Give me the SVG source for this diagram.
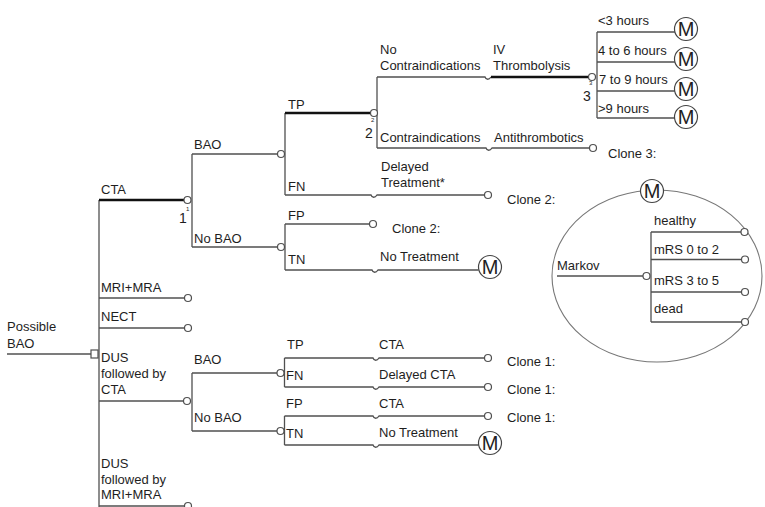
<svg xmlns="http://www.w3.org/2000/svg" width="765" height="507" viewBox="0 0 765 507">
<style>
.ln{fill:none;stroke:#505050;stroke-width:1.3}
.th{fill:none;stroke:#111;stroke-width:2.6}
.nd{fill:#fff;stroke:#505050;stroke-width:1.2}
.mc{fill:#fff;stroke:#444;stroke-width:1.2}
.el{fill:none;stroke:#777;stroke-width:1.1}
text{font-family:"Liberation Sans",Arial,sans-serif;font-size:13px;fill:#1e1e1e}
.m{font-size:20px;text-anchor:middle}
.num{font-size:14px}
.sup{font-size:6px}
</style>
<rect width="765" height="507" fill="#fff"/>
<g id="connectors">
<path class="ln" d="M7,354 H91"/>
<path class="ln" d="M99,200 V507"/>
<path class="th" d="M99,200 H184"/>
<path class="ln" d="M99,298 H184.5"/>
<path class="ln" d="M99,328 H184.5"/>
<path class="ln" d="M99,401 H183.5"/>
<path class="ln" d="M99,506 H184.5"/>
<path class="ln" d="M192,154 V247 M192,154 H277.5 M192,247 H277.5"/>
<path class="ln" d="M285,113 V195 M285,224 V270"/>
<path class="th" d="M285,113 H370.5"/>
<path class="ln" d="M285,195 H371 C372,198 375,198 377,195 H484.5"/>
<path class="ln" d="M285,224 H369.5"/>
<path class="ln" d="M285,270 H372 C373,273 376,273 378,270 H478.7"/>
<path class="ln" d="M377,77 V148"/>
<path class="ln" d="M377,77 H485 C486,80 489,80 491,77"/>
<path class="th" d="M491,77 H588.5"/>
<path class="ln" d="M377,148 H486 C487,151 490,151 492,148 H589.5"/>
<path class="ln" d="M597,32 V118 M597,32 H675 M597,62 H675 M597,91 H675 M597,118 H675"/>
<path class="ln" d="M557,276 H643 M651,232 V322 M651,232 H741 M651,259.5 H741.5 M651,292 H741.5 M651,322 H741.5"/>
<path class="ln" d="M192,373 V431 M192,373 H277 M192,431 H277"/>
<path class="ln" d="M284.5,358 V387 M284.5,416 V445"/>
<path class="ln" d="M284.5,358 H373 C374,361 377,361 379,358 H484.5"/>
<path class="ln" d="M284.5,387 H373 C374,390 377,390 379,387 H484.5"/>
<path class="ln" d="M284.5,416 H373 C374,419 377,419 379,416 H484.5"/>
<path class="ln" d="M284.5,445 H373 C374,448 377,448 379,445 H478.7"/>
</g>
<g id="root">
<rect class="nd" x="91" y="350" width="7" height="8"/>
<text x="7" y="331">Possible</text>
<text x="7" y="348">BAO</text>
</g>
<g id="branch-labels">
<text x="101" y="194">CTA</text>
<text x="101" y="292">MRI+MRA</text>
<text x="101" y="321">NECT</text>
<text x="101" y="362">DUS</text>
<text x="101" y="378">followed by</text>
<text x="101" y="394">CTA</text>
<text x="101" y="468">DUS</text>
<text x="101" y="484">followed by</text>
<text x="101" y="499">MRI+MRA</text>
<text x="194" y="149">BAO</text>
<text x="194" y="243">No BAO</text>
<text x="288" y="109">TP</text>
<text x="288" y="191">FN</text>
<text x="288" y="220">FP</text>
<text x="288" y="264">TN</text>
<text x="381" y="171">Delayed</text>
<text x="381" y="187">Treatment*</text>
<text x="380" y="261">No Treatment</text>
<text x="380" y="54">No</text>
<text x="380" y="70">Contraindications</text>
<text x="493" y="54">IV</text>
<text x="493" y="70">Thrombolysis</text>
<text x="380" y="142">Contraindications</text>
<text x="494" y="142">Antithrombotics</text>
<text x="598" y="25">&lt;3 hours</text>
<text x="598" y="55">4 to 6 hours</text>
<text x="599" y="84">7 to 9 hours</text>
<text x="598" y="113">&gt;9 hours</text>
<text x="194" y="364">BAO</text>
<text x="194" y="422">No BAO</text>
<text x="287" y="349">TP</text>
<text x="286" y="380">FN</text>
<text x="286" y="408">FP</text>
<text x="286" y="438">TN</text>
<text x="379" y="349">CTA</text>
<text x="379" y="379">Delayed CTA</text>
<text x="379" y="408">CTA</text>
<text x="379" y="437">No Treatment</text>
</g>
<g id="end-mri"><circle class="nd" cx="188" cy="298" r="3.5"/></g>
<g id="end-nect"><circle class="nd" cx="188" cy="328" r="3.5"/></g>
<g id="end-dus-mri"><circle class="nd" cx="188" cy="506" r="3.5"/></g>
<g id="node1">
<circle class="nd" cx="187.5" cy="200" r="3.5"/>
<text class="num" x="179" y="223">1</text>
<text class="sup" x="186" y="211">1</text>
</g>
<g id="node-bao"><circle class="nd" cx="281" cy="154" r="3.5"/></g>
<g id="node-nobao"><circle class="nd" cx="281" cy="247" r="3.5"/></g>
<g id="node2">
<circle class="nd" cx="374" cy="113" r="3.5"/>
<text class="num" x="365" y="138">2</text>
<text class="sup" x="371" y="122">2</text>
</g>
<g id="end-fn"><circle class="nd" cx="488" cy="195" r="3.5"/><text x="507" y="204">Clone 2:</text></g>
<g id="end-fp"><circle class="nd" cx="373" cy="224" r="3.5"/><text x="392" y="233">Clone 2:</text></g>
<g id="markov-tn"><circle class="mc" cx="490" cy="267" r="11.5"/><text class="m" x="490" y="274">M</text></g>
<g id="node3">
<circle class="nd" cx="592" cy="77" r="3.5"/>
<text class="num" x="583" y="101">3</text>
<text class="sup" x="589" y="85">3</text>
</g>
<g id="end-antithrombotics"><circle class="nd" cx="593" cy="148" r="3.5"/><text x="608" y="158">Clone 3:</text></g>
<g id="m1"><circle class="mc" cx="686" cy="29" r="11.5"/><text class="m" x="686" y="36">M</text></g>
<g id="m2"><circle class="mc" cx="686" cy="59" r="11.5"/><text class="m" x="686" y="66">M</text></g>
<g id="m3"><circle class="mc" cx="686" cy="89" r="11.5"/><text class="m" x="686" y="96">M</text></g>
<g id="m4"><circle class="mc" cx="686" cy="117" r="11.5"/><text class="m" x="686" y="124">M</text></g>
<g id="markov-model">
<ellipse class="el" cx="657" cy="276" rx="105" ry="86"/>
<circle class="mc" cx="652" cy="191" r="11.5"/><text class="m" x="652" y="198">M</text>
<text x="557" y="270">Markov</text>
<circle class="nd" cx="646.5" cy="276" r="3.5"/>
<text x="654" y="225">healthy</text>
<text x="654" y="254">mRS 0 to 2</text>
<text x="654" y="285">mRS 3 to 5</text>
<text x="654" y="313">dead</text>
<circle class="nd" cx="744.5" cy="232" r="3.5"/>
<circle class="nd" cx="745" cy="259.5" r="3.5"/>
<circle class="nd" cx="745" cy="292" r="3.5"/>
<circle class="nd" cx="745" cy="322" r="3.5"/>
</g>
<g id="node-dus"><circle class="nd" cx="187" cy="401" r="3.5"/></g>
<g id="node-bao2"><circle class="nd" cx="280.5" cy="373" r="3.5"/></g>
<g id="node-nobao2"><circle class="nd" cx="280.5" cy="431" r="3.5"/></g>
<g id="end-tp2"><circle class="nd" cx="488" cy="358" r="3.5"/><text x="507" y="366">Clone 1:</text></g>
<g id="end-fn2"><circle class="nd" cx="488" cy="387" r="3.5"/><text x="507" y="394">Clone 1:</text></g>
<g id="end-fp2"><circle class="nd" cx="488" cy="416" r="3.5"/><text x="507" y="422">Clone 1:</text></g>
<g id="markov-tn2"><circle class="mc" cx="490" cy="443" r="11.5"/><text class="m" x="490" y="450">M</text></g>
</svg>
